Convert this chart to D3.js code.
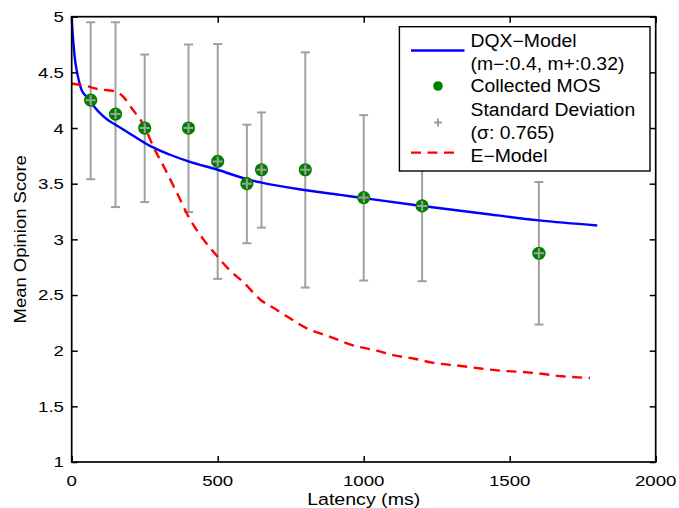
<!DOCTYPE html>
<html>
<head>
<meta charset="utf-8">
<script src="https://cdn.jsdelivr.net/npm/d3@7"></script>
<style>
  html, body { margin: 0; padding: 0; background: #fff; }
  svg { display: block; font-family: "Liberation Sans", Arial, Helvetica, sans-serif; }
</style>
</head>
<body>
<svg id="chart" width="679" height="508"></svg>
<script>
// Collected MOS per tested latency, with the standard deviation bar ends
const latency = [65, 150, 250, 400, 500, 600, 650, 800, 1000, 1200, 1600];
const mos     = [4.25, 4.125, 4.0, 4.0, 3.7, 3.5, 3.625, 3.625, 3.375, 3.3, 2.875];
const sdLow   = [3.54, 3.29, 3.335, 3.245, 2.645, 2.965, 3.105, 2.567, 2.63, 2.624, 2.235];
const sdHigh  = [4.95, 4.95, 4.66, 4.75, 4.755, 4.03, 4.14, 4.68, 4.116, 3.976, 3.515];

// DQX-Model prediction curve
const dqxLatency = [0, 3, 6, 11, 17, 25, 34, 48, 63, 91, 125, 150, 205, 268, 337, 400, 500, 600, 650, 780, 920, 1000, 1200, 1400, 1600, 1800];
const dqxMos     = [5.0, 4.86, 4.76, 4.62, 4.52, 4.42, 4.34, 4.29, 4.24, 4.15, 4.07, 4.03, 3.94, 3.84, 3.76, 3.70, 3.625, 3.54, 3.51, 3.45, 3.40, 3.37, 3.30, 3.235, 3.17, 3.125];

// E-Model prediction curve
const eLatency = [0, 45, 90, 148, 177, 205, 250, 280, 314, 360, 405, 451, 491, 542, 590, 645, 700, 742, 805, 885, 960, 1045, 1100, 1170, 1240, 1320, 1400, 1470, 1535, 1600, 1680, 1775];
const eMos     = [4.40, 4.38, 4.35, 4.33, 4.28, 4.18, 4.01, 3.83, 3.66, 3.42, 3.18, 3.00, 2.87, 2.72, 2.61, 2.46, 2.37, 2.30, 2.20, 2.125, 2.05, 2.00, 1.96, 1.93, 1.89, 1.867, 1.84, 1.82, 1.81, 1.795, 1.77, 1.755];

const xTicks = [0, 500, 1000, 1500, 2000];
const yTicks = [1, 1.5, 2, 2.5, 3, 3.5, 4, 4.5, 5];

const legendLabels = ["DQX\u2212Model", "(m\u2212:0.4, m+:0.32)", "Collected MOS", "Standard Deviation", "(\u03c3: 0.765)", "E\u2212Model"];

const svg = d3.select("#chart");
const plotLeft = 71.7, plotRight = 655.7, plotTop = 16.7, plotBottom = 462;
const x = d3.scaleLinear().domain([0, 2000]).range([plotLeft, plotRight]);
const y = d3.scaleLinear().domain([1, 5]).range([plotBottom, plotTop]);

const gray = "#a0a0a0", green = "#008000";

// widen text horizontally around its own anchor point
function widen(sel, sx) {
  sel.each(function () {
    const t = d3.select(this);
    const ax = +t.attr("x") || 0, ay = +t.attr("y") || 0;
    const prev = t.attr("transform") || "";
    t.attr("transform", `${prev} translate(${ax},${ay}) scale(${sx},1) translate(${-ax},${-ay})`);
  });
}

svg.append("rect").attr("width", 679).attr("height", 508).attr("fill", "#fff");

// error bars
const bars = svg.append("g").attr("stroke", gray).attr("stroke-width", 2).attr("fill", "none");
latency.forEach((L, i) => {
  const cx = x(L);
  bars.append("line").attr("x1", cx).attr("x2", cx).attr("y1", y(sdLow[i])).attr("y2", y(sdHigh[i]));
  [sdLow[i], sdHigh[i]].forEach(v => {
    bars.append("line").attr("x1", cx - 4.5).attr("x2", cx + 4.5).attr("y1", y(v)).attr("y2", y(v));
  });
});

// model curves
const curveLine = d3.line().x(d => x(d[0])).y(d => y(d[1])).curve(d3.curveMonotoneX);
svg.append("path")
  .datum(d3.zip(dqxLatency, dqxMos))
  .attr("d", curveLine)
  .attr("fill", "none").attr("stroke", "#0000ff").attr("stroke-width", 2.4);

svg.append("path")
  .datum(d3.zip(eLatency, eMos))
  .attr("d", curveLine)
  .attr("fill", "none").attr("stroke", "#ff0000").attr("stroke-width", 2.4)
  .attr("stroke-dasharray", "10,6.5");

// MOS markers with a gray plus on top
const marks = svg.append("g");
latency.forEach((L, i) => {
  const cx = x(L), cy = y(mos[i]);
  marks.append("circle").attr("cx", cx).attr("cy", cy).attr("r", 6.6).attr("fill", green);
  marks.append("path")
    .attr("d", `M${cx - 5},${cy}H${cx + 5}M${cx},${cy - 5}V${cy + 5}`)
    .attr("stroke", gray).attr("stroke-width", 2).attr("fill", "none");
});

// frame and inner ticks on all four sides
const axes = svg.append("g");
axes.append("g").attr("transform", `translate(0,${plotBottom})`)
  .call(d3.axisTop(x).tickValues(xTicks).tickSize(6).tickFormat(""));
axes.append("g").attr("transform", `translate(0,${plotTop})`)
  .call(d3.axisBottom(x).tickValues(xTicks).tickSize(6).tickFormat(""));
axes.append("g").attr("transform", `translate(${plotLeft},0)`)
  .call(d3.axisRight(y).tickValues(yTicks).tickSize(6).tickFormat(""));
axes.append("g").attr("transform", `translate(${plotRight},0)`)
  .call(d3.axisLeft(y).tickValues(yTicks).tickSize(6).tickFormat(""));
axes.selectAll(".domain").remove();
axes.selectAll(".tick line").attr("stroke", "#000").attr("stroke-width", 1.5);
svg.append("rect")
  .attr("x", plotLeft).attr("y", plotTop).attr("width", plotRight - plotLeft).attr("height", plotBottom - plotTop)
  .attr("fill", "none").attr("stroke", "#000").attr("stroke-width", 1.7);

// tick labels
const tickFont = 15.3, tickStretch = 1.22;
svg.append("g").selectAll("text").data(xTicks).join("text")
  .attr("x", d => x(d)).attr("y", 486)
  .attr("text-anchor", "middle").attr("font-size", tickFont)
  .text(d => d)
  .call(widen, tickStretch);
svg.append("g").selectAll("text").data(yTicks).join("text")
  .attr("x", 64).attr("y", d => y(d) + 5.5)
  .attr("text-anchor", "end").attr("font-size", tickFont)
  .text(d => d)
  .call(widen, tickStretch);

// axis titles
svg.append("text")
  .attr("x", (plotLeft + plotRight) / 2).attr("y", 505.5)
  .attr("text-anchor", "middle").attr("font-size", 16.3)
  .text("Latency (ms)")
  .call(widen, 1.2);
svg.append("text")
  .attr("transform", `translate(26,${(plotTop + plotBottom) / 2}) rotate(-90) scale(1.12,1)`)
  .attr("text-anchor", "middle").attr("font-size", 16.5)
  .text("Mean Opinion Score");

// legend
const lg = svg.append("g");
lg.append("rect").attr("x", 399.4).attr("y", 26.7).attr("width", 250.6).attr("height", 144.3)
  .attr("fill", "#fff").attr("stroke", "#000").attr("stroke-width", 1.4);
const rowBase = [47.4, 70, 92.4, 116, 138.8, 162.4];
lg.selectAll("text").data(legendLabels).join("text")
  .attr("x", 470.5).attr("y", (d, i) => rowBase[i])
  .attr("font-size", 17.6)
  .text(d => d)
  .call(widen, 1.1);
lg.append("line").attr("x1", 411).attr("x2", 464.5).attr("y1", 50.5).attr("y2", 50.5)
  .attr("stroke", "#0000ff").attr("stroke-width", 2.4);
lg.append("circle").attr("cx", 438).attr("cy", 86).attr("r", 4.8).attr("fill", green);
lg.append("path").attr("d", "M434,122.4H442M438,118.4V126.4")
  .attr("stroke", gray).attr("stroke-width", 2).attr("fill", "none");
lg.append("line").attr("x1", 411).attr("x2", 454).attr("y1", 152.6).attr("y2", 152.6)
  .attr("stroke", "#ff0000").attr("stroke-width", 2.4).attr("stroke-dasharray", "10,6.5");
</script>
</body>
</html>
